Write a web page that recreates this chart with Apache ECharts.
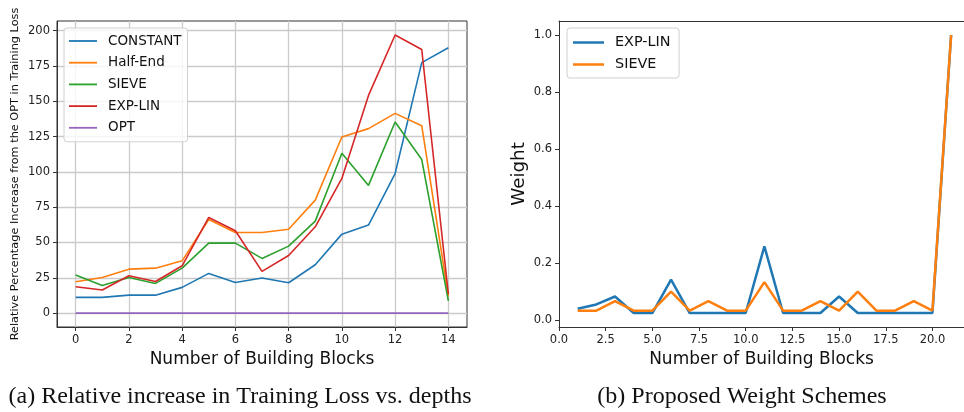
<!DOCTYPE html>
<html>
<head>
<meta charset="utf-8">
<script src="https://cdn.jsdelivr.net/npm/echarts@6/dist/echarts.min.js"></script>
<style>
html,body{margin:0;padding:0;background:#fff;}
#c{width:964px;height:412px;}
</style>
</head>
<body>
<div id="c"></div>
<script>
// ---- Data: left panel (a) ----
const blocksA = [0,1,2,3,4,5,6,7,8,9,10,11,12,13,14];
const constantVals = [11.1,11.1,12.7,12.7,18.2,28.1,21.7,24.8,21.5,34.2,55.9,62.3,98.8,177.3,187.9];
const halfEndVals  = [22.2,25.2,31.1,31.8,37.0,66.3,57.1,57.1,59.4,80.0,124.7,130.6,141.4,132.7,11.8];
const sieveVals    = [26.9,19.6,25.2,21.0,31.8,49.5,49.5,38.7,47.4,65.1,113.2,90.4,135.3,108.7,8.6];
const expLinVals   = [18.6,16.3,26.4,22.4,33.5,67.7,58.3,29.5,40.8,61.1,95.3,154.1,196.9,186.6,13.4];
const optVals      = [0,0,0,0,0,0,0,0,0,0,0,0,0,0,0];
const ticksAX = [0,2,4,6,8,10,12,14];
const ticksAY = [0,25,50,75,100,125,150,175,200];

// ---- Data: right panel (b) ----
const blocksB = [1,2,3,4,5,6,7,8,9,10,11,12,13,14,15,16,17,18,19,20,21];
const expLinW = [0.040,0.055,0.083,0.025,0.025,0.142,0.025,0.025,0.025,0.025,0.259,0.025,0.025,0.025,0.083,0.025,0.025,0.025,0.025,0.025,1.0];
const sieveW  = [0.0333,0.0333,0.0667,0.0333,0.0333,0.1,0.0333,0.0667,0.0333,0.0333,0.1333,0.0333,0.0333,0.0667,0.0333,0.1,0.0333,0.0333,0.0667,0.0333,1.0];
const ticksBX = [0,2.5,5,7.5,10,12.5,15,17.5,20];
const ticksBY = [0,0.2,0.4,0.6,0.8,1.0];

const pairs = (xs, ys) => xs.map((x, i) => [x, ys[i]]);
const C = ['#1f77b4','#ff7f0e','#2ca02c','#d62728','#9467bd'];
const F = 'DejaVu Sans';
const tickColor = '#222';
const spine = '#333';

const chart = echarts.init(document.getElementById('c'), null, {renderer:'canvas'});

function xAxisCfg(gi, min, max, ticks, fmt, grid) {
  return {
    type:'value', gridIndex:gi, min:min, max:max, position:'bottom',
    name:'Number of Building Blocks', nameLocation:'middle', nameGap:24,
    nameTextStyle:{fontFamily:F, fontSize:17, color:'#111'},
    axisLine:{show:true, onZero:false, lineStyle:{color:spine, width:1}},
    axisTick:{show:true, inside:false, length:4, customValues:ticks, lineStyle:{color:spine}},
    axisLabel:{customValues:ticks, margin:7, fontFamily:F, fontSize:11.5, color:tickColor, formatter:fmt},
    splitLine:{show:grid, lineStyle:{color:'#cbcbcb', width:1.3}}
  };
}
function yAxisCfg(gi, min, max, ticks, fmt, grid, name, nameSize, gap) {
  return {
    type:'value', gridIndex:gi, min:min, max:max,
    name:name, nameLocation:'middle', nameGap:gap, nameRotate:90,
    nameTextStyle:{fontFamily:F, fontSize:nameSize, color:'#111'},
    axisLine:{show:true, onZero:false, lineStyle:{color:spine, width:1}},
    axisTick:{show:true, inside:false, length:4, customValues:ticks, lineStyle:{color:spine}},
    axisLabel:{customValues:ticks, margin:7, fontFamily:F, fontSize:11.5, color:tickColor, formatter:fmt},
    splitLine:{show:grid, lineStyle:{color:'#cbcbcb', width:1.3}}
  };
}

const lineSeries = (name, xs, ys, color, xi, width) => ({
  name:name, type:'line', xAxisIndex:xi, yAxisIndex:xi,
  data:pairs(xs, ys), symbol:'none', smooth:false,
  lineStyle:{color:color, width:width}, itemStyle:{color:color},
  emphasis:{disabled:true}, animation:false
});

chart.setOption({
  animation:false,
  backgroundColor:'#fff',
  grid:[
    {left:57, top:21, width:410, height:306, show:true, borderColor:spine, borderWidth:1, backgroundColor:'transparent'},
    {left:559, top:21, width:405, height:306, show:false}
  ],
  xAxis:[
    xAxisCfg(0, -0.7, 14.7, ticksAX, v => String(v), true),
    xAxisCfg(1, 0, 21.69, ticksBX, v => v.toFixed(1), false),
    {
      type:'value', gridIndex:1, min:0, max:21.69, position:'top',
      axisLine:{show:true, onZero:false, lineStyle:{color:spine, width:1}},
      axisTick:{show:false}, axisLabel:{show:false}, splitLine:{show:false}
    }
  ],
  yAxis:[
    yAxisCfg(0, -9.85, 206.8, ticksAY, v => String(v), true, 'Relative Percentage Increase from the OPT in Training Loss', 11.3, 36),
    yAxisCfg(1, -0.024, 1.049, ticksBY, v => v.toFixed(1), false, 'Weight', 18.3, 31)
  ],
  legend:[
    {
      data:['CONSTANT','Half-End','SIEVE','EXP-LIN','OPT'],
      left:64, top:28, orient:'vertical',
      icon:'rect', itemWidth:28, itemHeight:1.8, itemGap:5.7,
      padding:[5,6,6,5],
      backgroundColor:'rgba(255,255,255,0.8)', borderColor:'#d0d0d0', borderWidth:1, borderRadius:3,
      textStyle:{fontFamily:F, fontSize:13.5, lineHeight:16, color:'#111', padding:[0,0,0,6]},
      selectedMode:false
    },
    {
      data:['EXP-LIN ','SIEVE '],
      left:567, top:28, orient:'vertical',
      icon:'rect', itemWidth:31, itemHeight:2.5, itemGap:5,
      padding:[6,4,5,6],
      backgroundColor:'rgba(255,255,255,0.8)', borderColor:'#d0d0d0', borderWidth:1, borderRadius:3,
      textStyle:{fontFamily:F, fontSize:14.4, lineHeight:17, color:'#111', padding:[0,0,0,6]},
      selectedMode:false
    }
  ],
  graphic:[
    {type:'text', x:240, y:397, style:{text:'(a) Relative increase in Training Loss vs. depths', fontFamily:'Liberation Serif', fontSize:24, fill:'#111', textAlign:'center', textVerticalAlign:'middle'}},
    {type:'text', x:742, y:397, style:{text:'(b) Proposed Weight Schemes', fontFamily:'Liberation Serif', fontSize:24, fill:'#111', textAlign:'center', textVerticalAlign:'middle'}}
  ],
  series:[
    lineSeries('CONSTANT', blocksA, constantVals, C[0], 0, 1.6),
    lineSeries('Half-End', blocksA, halfEndVals, C[1], 0, 1.6),
    lineSeries('SIEVE', blocksA, sieveVals, C[2], 0, 1.6),
    lineSeries('EXP-LIN', blocksA, expLinVals, C[3], 0, 1.6),
    lineSeries('OPT', blocksA, optVals, C[4], 0, 1.6),
    lineSeries('EXP-LIN ', blocksB, expLinW, C[0], 1, 2.5),
    lineSeries('SIEVE ', blocksB, sieveW, C[1], 1, 2.5)
  ]
});
</script>
</body>
</html>
